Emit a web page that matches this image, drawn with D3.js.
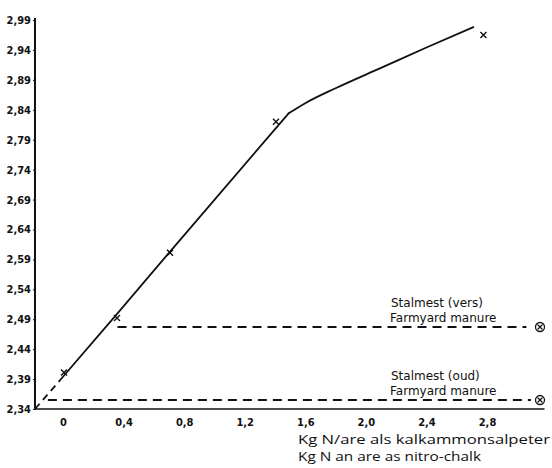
<!DOCTYPE html>
<html>
<head>
<meta charset="utf-8">
<script src="https://cdn.jsdelivr.net/npm/d3@7"></script>
<style>
  body { margin: 0; background: #fff; }
  svg { display: block; }
  .tick text { font-family: "DejaVu Sans Condensed", sans-serif; font-weight: bold; fill: #111; }
  .lbl { font-family: "DejaVu Sans", sans-serif; font-size: 12px; fill: #111; }
  .ttl { font-family: "Open Sans", sans-serif; font-size: 13.5px; fill: #111; }
</style>
</head>
<body>
<svg id="chart" width="552" height="468"></svg>
<script>
// values
const xTicks = [0, 0.4, 0.8, 1.2, 1.6, 2.0, 2.4, 2.8];
const yTicks = [2.34, 2.39, 2.44, 2.49, 2.54, 2.59, 2.64, 2.69, 2.74, 2.79, 2.84, 2.89, 2.94, 2.99];

// kg N per are (nitro-chalk) and yields, marked with x
const doseN = [0, 0.35, 0.7, 1.4, 2.77];
const yieldN = [2.401, 2.492, 2.601, 2.82, 2.965];

// drawn response curve: straight part, then bending part
const curveStartDash = [[-0.185, 2.34], [-0.02, 2.388]];
const straightX = [-0.02, 0.35, 0.7, 1.49];
const straightY = [2.388, 2.497, 2.601, 2.834];
const bendX = [1.49, 1.6, 1.8, 2.1, 2.4, 2.71];
const bendY = [2.834, 2.851, 2.876, 2.91, 2.944, 2.978];

// farmyard manure levels (horizontal dashed lines)
const fymNames = ["Stalmest (vers)", "Stalmest (oud)"];
const fymSub = ["Farmyard manure", "Farmyard manure"];
const fymValue = [2.477, 2.355];
const fymFrom = [0.36, -0.1];
const fymTo = [3.06, 3.09];
const fymMarkX = 3.15;

const svg = d3.select('#chart');

let x = d3.scaleLinear().domain([0, 2.8]).range([63, 487]);
let y = d3.scaleLinear().domain([2.34, 2.99]).range([409, 20]);

const fmt = d => (d === 0 ? "0" : d3.format(".1f")(d).replace('.', ','));

// x axis line
svg.append("line")
    .attr("x1", x(-0.185)).attr("x2", x(3.18))
    .attr("y1", y(2.34)).attr("y2", y(2.34))
    .attr("stroke", "#111").attr("stroke-width", 1.6);

let xAxis = svg.append("g")
    .attr("transform", `translate(0,${y(2.34)})`)
    .call(d3.axisBottom(x).tickValues(xTicks).tickSize(0).tickPadding(9).tickFormat(fmt));
xAxis.select(".domain").remove();
xAxis.selectAll("text").style("font-size", "11px");

// y axis
let yAxis = svg.append("g")
    .attr("transform", `translate(${x(-0.185)},0)`)
    .call(d3.axisLeft(y).tickValues(yTicks).tickSize(2).tickPadding(2).tickSizeOuter(0)
        .tickFormat(d => d3.format(".2f")(d).replace('.', ',')));
yAxis.select(".domain").attr("stroke", "#111").attr("stroke-width", 2)
    .attr("d", `M0,${y(2.34) + 1}V${y(2.99) - 2}`);
yAxis.selectAll("line").attr("stroke", "#111");
yAxis.selectAll("text").style("font-size", "11px");

// response curve
let line = d3.line().x(d => x(d[0])).y(d => y(d[1]));
let smooth = d3.line().x(d => x(d[0])).y(d => y(d[1])).curve(d3.curveMonotoneX);

svg.append("path")
    .attr("d", line(curveStartDash))
    .attr("fill", "none").attr("stroke", "#111").attr("stroke-width", 1.8)
    .attr("stroke-dasharray", "7,5");

svg.append("path")
    .attr("d", line(straightX.map((v, i) => [v, straightY[i]])))
    .attr("fill", "none").attr("stroke", "#111").attr("stroke-width", 1.8)
    .attr("stroke-linecap", "round");

svg.append("path")
    .attr("d", smooth(bendX.map((v, i) => [v, bendY[i]])))
    .attr("fill", "none").attr("stroke", "#111").attr("stroke-width", 1.8)
    .attr("stroke-linecap", "round");

// x markers
svg.selectAll(".mark")
    .data(doseN.map((v, i) => [v, yieldN[i]]))
    .enter()
    .append("path")
    .attr("class", "mark")
    .attr("d", d => {
        let cx = x(d[0]) + 1, cy = y(d[1]);
        return `M${cx - 3},${cy - 3}L${cx + 3},${cy + 3}M${cx + 3},${cy - 3}L${cx - 3},${cy + 3}`;
    })
    .attr("stroke", "#111").attr("stroke-width", 1.4);

// farmyard manure lines
let fym = svg.selectAll(".fym")
    .data(fymValue.map((v, i) => ({v: v, from: fymFrom[i], to: fymTo[i], name: fymNames[i], sub: fymSub[i]})))
    .enter()
    .append("g")
    .attr("class", "fym");

fym.append("line")
    .attr("x1", d => x(d.from)).attr("x2", d => x(d.to))
    .attr("y1", d => y(d.v)).attr("y2", d => y(d.v))
    .attr("stroke", "#111").attr("stroke-width", 1.8)
    .attr("stroke-dasharray", "9,6");

fym.append("circle")
    .attr("cx", x(fymMarkX)).attr("cy", d => y(d.v))
    .attr("r", 4.5)
    .attr("fill", "none").attr("stroke", "#111").attr("stroke-width", 1.3);

fym.append("path")
    .attr("d", d => {
        let cx = x(fymMarkX), cy = y(d.v);
        return `M${cx - 2.5},${cy - 2.5}L${cx + 2.5},${cy + 2.5}M${cx + 2.5},${cy - 2.5}L${cx - 2.5},${cy + 2.5}`;
    })
    .attr("stroke", "#111").attr("stroke-width", 1.2);

fym.append("text")
    .attr("class", "lbl")
    .attr("x", 391)
    .attr("y", d => y(d.v) - 20)
    .text(d => d.name);

fym.append("text")
    .attr("class", "lbl")
    .attr("x", 390)
    .attr("y", d => y(d.v) - 5)
    .text(d => d.sub);

// axis title
svg.append("text").attr("class", "ttl")
    .attr("x", 298).attr("y", 444)
    .attr("textLength", 252).attr("lengthAdjust", "spacingAndGlyphs")
    .text("Kg N/are als kalkammonsalpeter");
svg.append("text").attr("class", "ttl")
    .attr("x", 298).attr("y", 461)
    .attr("textLength", 183).attr("lengthAdjust", "spacingAndGlyphs")
    .text("Kg N an are as nitro-chalk");
</script>
</body>
</html>
